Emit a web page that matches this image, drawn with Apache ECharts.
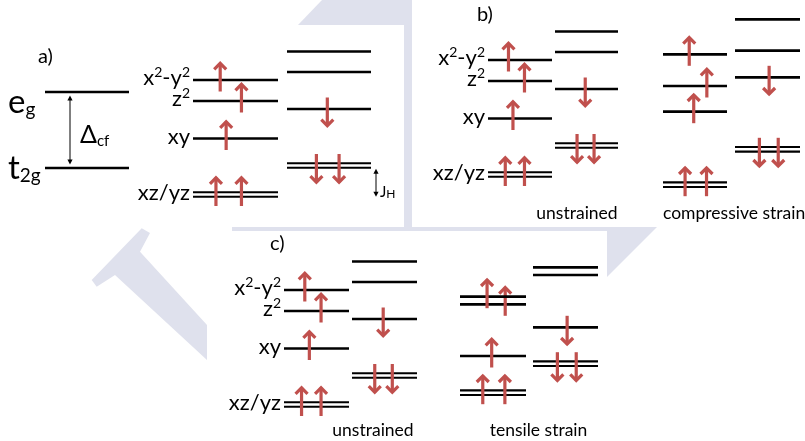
<!DOCTYPE html>
<html>
<head>
<meta charset="utf-8">
<script src="https://cdn.jsdelivr.net/npm/echarts@6/dist/echarts.min.js"></script>
<style>
  html, body { margin: 0; padding: 0; background: #ffffff; }
  #chart { width: 805px; height: 441px; }
</style>
</head>
<body>
<div id="chart"></div>
<script>
// ---- data -------------------------------------------------------------
// d orbitals, lowest first (unstrained ordering); [base, superscript, base, superscript]
const orbitals   = [['xz/yz'], ['xy'], ['z', '2'], ['x', '2', '-y', '2']];
const degeneracy = [2, 1, 1, 1];
// electrons in each orbital: majority (spin up) and minority (spin down)
const upOcc   = [2, 1, 1, 1];
const downOcc = [2, 1, 0, 0];

// level energies (arb. units), same order as orbitals
const unstrainedUp    = [25.5, 81.5, 119, 140];
const unstrainedDown  = [54.5, 111, 148, 168.5];
const compressiveUp   = [15.3, 88.3, 114, 145.7];
const compressiveDown = [50.7, 122.7, 149.3, 180.7];
const tensileUp       = [37.3, 74, 125.7, 133.3];
const tensileDown     = [66.3, 102.7, 155, 162.7];

// octahedral crystal field (panel a)
const cfNames  = ['t2g', 'eg'];
const cfEnergy = [52, 128];

// panel captions
const panelTitles = ['a)', 'b)', 'c)'];
const captions = ['unstrained', 'compressive strain', 'unstrained', 'tensile strain'];

// ---- styling / layout ---------------------------------------------------
const INK = '#000000';
const RED = '#c0504d';
const WM = '#dfe1ed';
const FONT = 'Lato, "Open Sans", sans-serif';
const PAIR = 2.3;          // half spacing of a doubly degenerate level
const TAIL = 11.5, HEAD = 18.5;

// horizontal slot of each electron inside a column (fraction of width)
const slotsUp       = [[0.27, 0.57], [0.39], [0.57], [0.32]];
const slotsDown     = [[0.35, 0.62], [0.48], [], []];
const slotsUpStr    = [[0.345, 0.68], [0.48], [0.685], [0.41]];
const slotsDownStr  = [[0.375, 0.665], [0.525], [], []];

const columns = [
  { panel: 0, x: [193, 278], E: unstrainedUp,    occ: upOcc,   spin: 1,  slots: slotsUp,      labels: true },
  { panel: 0, x: [287, 371], E: unstrainedDown,  occ: downOcc, spin: -1, slots: slotsDown },
  { panel: 1, x: [488, 552], E: unstrainedUp,    occ: upOcc,   spin: 1,  slots: slotsUp,      labels: true },
  { panel: 1, x: [555, 618], E: unstrainedDown,  occ: downOcc, spin: -1, slots: slotsDown },
  { panel: 1, x: [663, 727], E: compressiveUp,   occ: upOcc,   spin: 1,  slots: slotsUpStr },
  { panel: 1, x: [735, 800], E: compressiveDown, occ: downOcc, spin: -1, slots: slotsDownStr },
  { panel: 2, x: [284, 349], E: unstrainedUp,    occ: upOcc,   spin: 1,  slots: slotsUp,      labels: true },
  { panel: 2, x: [352, 417], E: unstrainedDown,  occ: downOcc, spin: -1, slots: slotsDown },
  { panel: 2, x: [460, 526], E: tensileUp,       occ: upOcc,   spin: 1,  slots: slotsUpStr },
  { panel: 2, x: [533, 598], E: tensileDown,     occ: downOcc, spin: -1, slots: slotsDownStr }
];

const grids = [
  { left: 0, right: 0, top: 0,   height: 220 },
  { left: 0, right: 0, top: 0,   height: 200 },
  { left: 0, right: 0, top: 230, height: 200 }
];
const eMax = [220, 200, 200];

// ---- drawing helpers ---------------------------------------------------
function spinArrow(x, y, dir) {
  const tail = y + dir * TAIL;
  const tip = y - dir * HEAD;
  return {
    type: 'group',
    children: [
      { type: 'line', shape: { x1: x, y1: tail, x2: x, y2: tip + dir * 1.5 },
        style: { stroke: RED, lineWidth: 3.2 } },
      { type: 'polyline',
        shape: { points: [[x - 6, tip + dir * 7.8], [x, tip + dir * 1.8], [x + 6, tip + dir * 7.8]] },
        style: { stroke: RED, lineWidth: 3.2, fill: null, lineJoin: 'miter' } }
    ]
  };
}

function doubleArrow(x, yTop, yBot) {
  const h = 5, w = 2.6;
  return [
    { type: 'line', shape: { x1: x, y1: yTop + h - 1, x2: x, y2: yBot - h + 1 },
      style: { stroke: INK, lineWidth: 1 } },
    { type: 'polygon', shape: { points: [[x, yTop], [x - w, yTop + h], [x + w, yTop + h]] },
      style: { fill: INK } },
    { type: 'polygon', shape: { points: [[x, yBot], [x - w, yBot - h], [x + w, yBot - h]] },
      style: { fill: INK } }
  ];
}

function subText(x, y, main, sub, mainSize, subSize, mainLH, subLH) {
  return {
    type: 'text',
    style: {
      x: x, y: y,
      text: '{m|' + main + '}{s|' + sub + '}',
      align: 'left', verticalAlign: 'middle',
      rich: {
        m: { fontSize: mainSize, fontFamily: FONT, fill: INK, lineHeight: mainLH },
        s: { fontSize: subSize, fontFamily: FONT, fill: INK, lineHeight: subLH, verticalAlign: 'bottom' }
      }
    }
  };
}

// orbital name with raised superscripts
function orbitalText(parts) {
  return parts.map((p, i) => (i % 2 === 0 ? '{m|' : '{p|') + p + '}').join('');
}

// ---- series data -------------------------------------------------------
function levelSeries(panel) {
  const data = [];
  columns.forEach((col, ci) => {
    if (col.panel !== panel) return;
    col.E.forEach((e, k) => data.push([col.x[0], col.x[1], e, ci, k]));
  });
  return {
    type: 'custom',
    xAxisIndex: panel, yAxisIndex: panel,
    data: data,
    encode: { x: [0, 1], y: 2 },
    clip: false,
    renderItem: function (params, api) {
      const col = columns[api.value(3)];
      const k = api.value(4);
      const p0 = api.coord([api.value(0), api.value(2)]);
      const p1 = api.coord([api.value(1), api.value(2)]);
      const y = p0[1];
      const children = [];
      const offs = degeneracy[k] === 2 ? [-PAIR, PAIR] : [0];
      offs.forEach(o => children.push({
        type: 'line',
        shape: { x1: p0[0], y1: y + o, x2: p1[0], y2: y + o },
        style: { stroke: INK, lineWidth: degeneracy[k] === 2 ? 2.1 : 2.7 }
      }));
      for (let i = 0; i < col.occ[k]; i++) {
        const ax = p0[0] + col.slots[k][i] * (p1[0] - p0[0]);
        children.push(spinArrow(ax, y, col.spin));
      }
      if (col.labels) {
        children.push({
          type: 'text',
          style: {
            x: p0[0] - 3, y: y - 2,
            text: orbitalText(orbitals[k]),
            align: 'right', verticalAlign: 'middle',
            rich: {
              m: { fontSize: 22, fontFamily: FONT, fill: INK, lineHeight: 26 },
              p: { fontSize: 14, fontFamily: FONT, fill: INK, lineHeight: 15, verticalAlign: 'top' }
            }
          }
        });
      }
      return { type: 'group', children: children };
    }
  };
}

// crystal-field levels of panel a
const cfLabelOffset = [0, 10];
const cfSeries = {
  type: 'custom',
  xAxisIndex: 0, yAxisIndex: 0,
  data: cfEnergy.map((e, i) => [45, 129, e, i]),
  encode: { x: [0, 1], y: 2 },
  clip: false,
  renderItem: function (params, api) {
    const i = api.value(3);
    const p0 = api.coord([api.value(0), api.value(2)]);
    const p1 = api.coord([api.value(1), api.value(2)]);
    const name = cfNames[i];
    return {
      type: 'group',
      children: [
        { type: 'line', shape: { x1: p0[0], y1: p0[1], x2: p1[0], y2: p1[1] },
          style: { stroke: INK, lineWidth: 2.7 } },
        subText(8, p0[1] + cfLabelOffset[i], name.charAt(0), name.slice(1), 33, 19, 34, 28)
      ]
    };
  }
};

// splittings: crystal field (between t2g and eg) and Hund's exchange
const gapSeries = {
  type: 'custom',
  xAxisIndex: 0, yAxisIndex: 0,
  data: [
    [70, cfEnergy[0], cfEnergy[1], 0],
    [376, unstrainedUp[0], unstrainedDown[0], 1]
  ],
  encode: { x: 0, y: [1, 2] },
  clip: false,
  renderItem: function (params, api) {
    const g = api.value(3);
    const lo = api.coord([api.value(0), api.value(1)]);
    const hi = api.coord([api.value(0), api.value(2)]);
    const x = lo[0];
    if (g === 0) {
      const yTop = hi[1] + 3.5, yBot = lo[1] - 3.5;
      return { type: 'group', children: doubleArrow(x, yTop, yBot).concat([
        subText(x + 10, (yTop + yBot) / 2 + 5, 'Δ', 'cf', 25, 15, 28, 22)
      ]) };
    }
    const yTop = hi[1] + PAIR + 1, yBot = lo[1] + PAIR;
    return { type: 'group', children: doubleArrow(x, yTop, yBot).concat([
      subText(x + 4, yBot - 5, 'J', 'H', 15, 12, 16, 13)
    ]) };
  }
};

// ---- background mark and text ----------------------------------------
const watermark = [
  [[91.7, 280], [96.7, 286.7], [115, 275], [207, 360], [207, 325], [140, 251.7], [150, 233], [141.7, 228.3]],
  [[322, 0], [404, 0], [404, 25], [298, 25]],
  [[404, 0], [412, 0], [412, 231], [404, 231]],
  [[232, 227], [607, 227], [607, 231], [232, 231]],
  [[607, 227], [657, 227], [607, 277]]
].map(pts => ({
  type: 'polygon', z: -10, silent: true,
  shape: { points: pts },
  style: { fill: WM }
}));

function label(text, x, y, size, align) {
  return {
    type: 'text', z: 10, silent: true,
    style: { x: x, y: y, text: text, font: size + 'px ' + FONT, fill: INK,
             align: align || 'left', verticalAlign: 'middle' }
  };
}

const texts = [
  label(panelTitles[0], 38, 57, 20),
  label(panelTitles[1], 477, 15, 20),
  label(panelTitles[2], 270, 244, 20),
  label(captions[0], 577, 213, 17.5, 'center'),
  label(captions[1], 663, 213, 17.5, 'left'),
  label(captions[2], 373, 430, 17.5, 'center'),
  label(captions[3], 538.5, 430, 17.5, 'center')
];

const chart = echarts.init(document.getElementById('chart'), null, { renderer: 'canvas' });
chart.setOption({
  animation: false,
  backgroundColor: '#ffffff',
  grid: grids,
  xAxis: grids.map((g, i) => ({ type: 'value', gridIndex: i, min: 0, max: 805, show: false })),
  yAxis: grids.map((g, i) => ({ type: 'value', gridIndex: i, min: 0, max: eMax[i], show: false })),
  graphic: watermark.concat(texts),
  series: [levelSeries(0), levelSeries(1), levelSeries(2), cfSeries, gapSeries]
});
</script>
</body>
</html>
